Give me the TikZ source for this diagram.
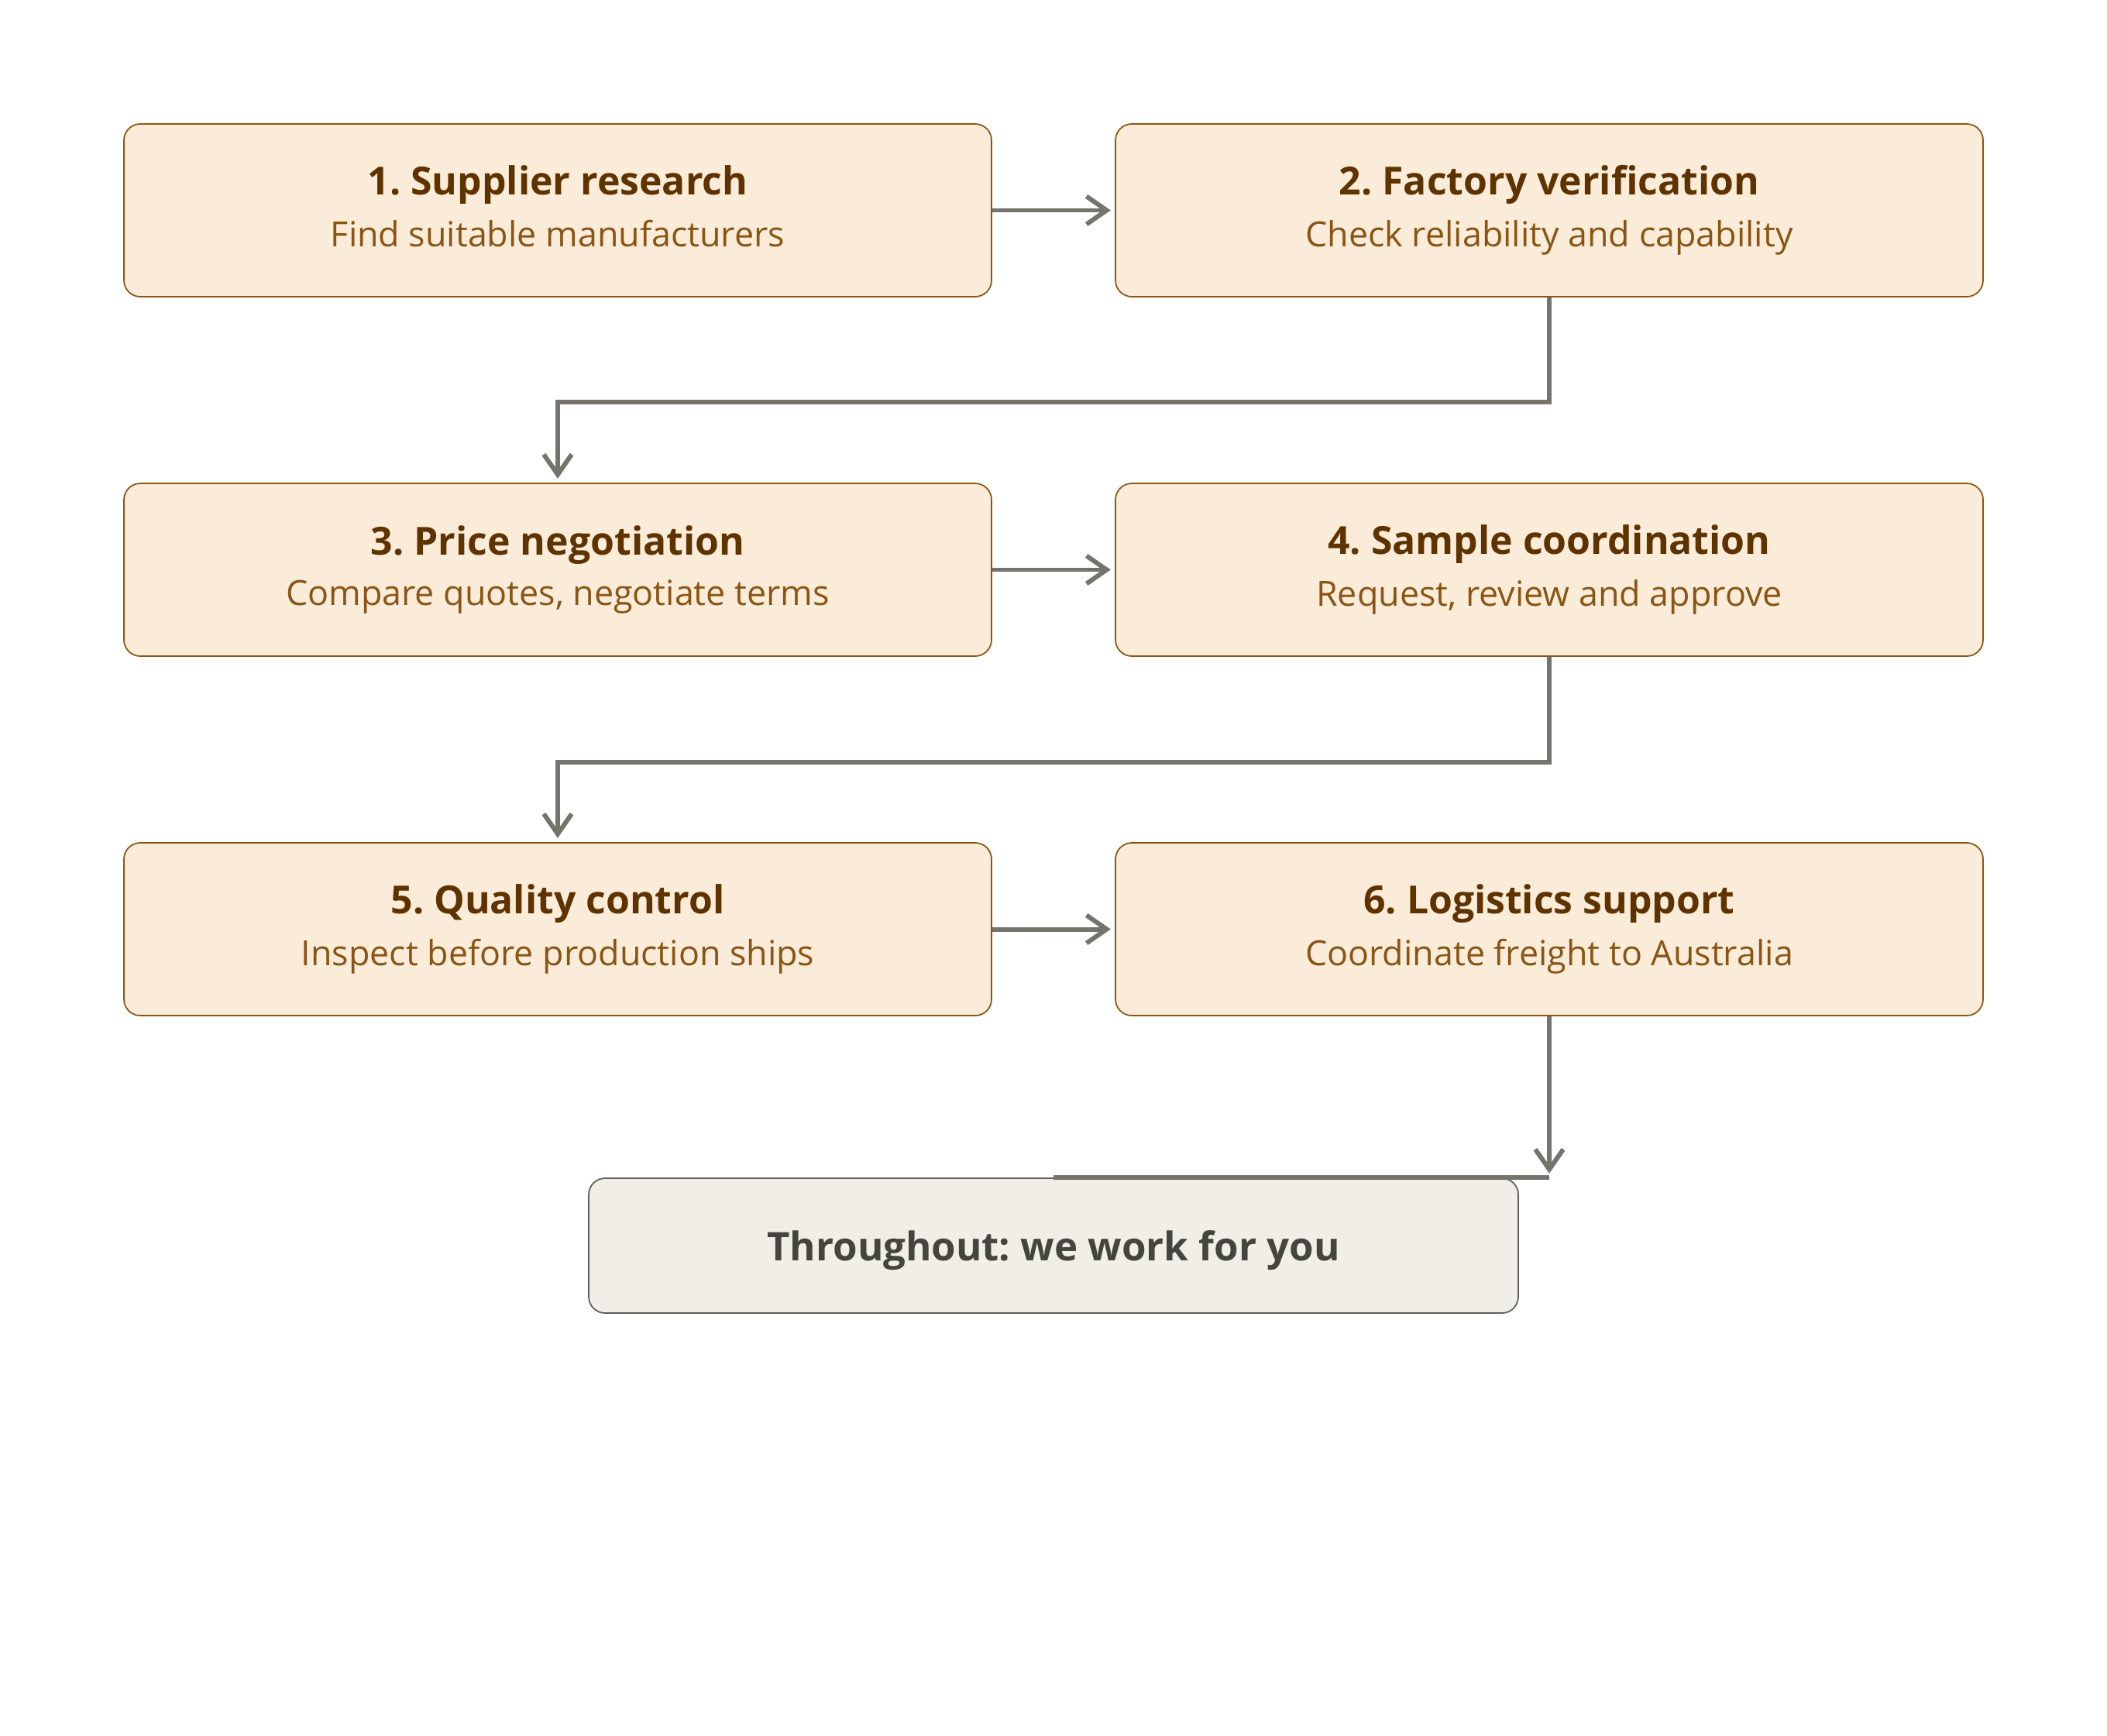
\documentclass[tikz,border=0pt]{standalone}
\usepackage{fontspec}
\setmainfont{Open Sans}
\usetikzlibrary{arrows.meta,positioning}
\frenchspacing

\def\boxw{11.2}
\def\boxh{2.23}
\definecolor{stepface}{HTML}{FAECD9}
\definecolor{stepedge}{HTML}{8B5412}
\definecolor{steptitle}{HTML}{5E3300}
\definecolor{stepsub}{HTML}{8A5514}
\definecolor{flowgray}{HTML}{74736C}
\definecolor{noteface}{HTML}{F1EEE7}
\definecolor{noteedge}{HTML}{5E5E58}
\definecolor{notetext}{HTML}{45453F}
\newcommand{\steptext}[2]{%
  {\color{steptitle}\fontsize{14.2}{17}\selectfont\bfseries\vphantom{Sy}#1}\\[0.17cm]%
  {\color{stepsub}\fontsize{12.75}{15}\selectfont\vphantom{Fy}#2}%
}

\begin{document}
\begin{tikzpicture}[
  x=1cm, y=1cm,
  stepbox/.style={
    draw=stepedge,
    fill=stepface,
    line width=0.5pt,
    rounded corners=6pt,
    minimum width=\boxw cm,
    minimum height=\boxh cm,
    align=center
  },
  notebox/.style={
    draw=noteedge,
    fill=noteface,
    line width=0.5pt,
    rounded corners=6pt,
    minimum width=12cm,
    minimum height=1.74cm,
    align=center,
    text depth=0pt,
    text=notetext,
    font=\fontsize{14.5}{17}\selectfont\bfseries
  },
  flowline/.style={
    draw=flowgray,
    line width=1.7pt
  },
  flow/.style={
    flowline,
    -{Straight Barb[length=0.26cm, width=0.36cm, line width=1.7pt]},
    shorten >=1.5pt
  }
]

  \useasboundingbox (0,0) rectangle (27.2,-22.4);

  % --------------------------------------------------------------------
  % Steps
  % --------------------------------------------------------------------

  \node[stepbox] (s1) at (7.2, -2.715)
    {\steptext{1. Supplier research}{Find suitable manufacturers}};
  \node[stepbox] (s2) at (20.0, -2.715)
    {\steptext{2. Factory verification}{Check reliability and capability}};
  \node[stepbox] (s3) at (7.2, -7.355)
    {\steptext{3. Price negotiation}{Compare quotes, negotiate terms}};
  \node[stepbox] (s4) at (20.0, -7.355)
    {\steptext{4. Sample coordination}{Request, review and approve}};
  \node[stepbox] (s5) at (7.2, -11.995)
    {\steptext{5. Quality control}{Inspect before production ships}};
  \node[stepbox] (s6) at (20.0, -11.995)
    {\steptext{6. Logistics support}{Coordinate freight to Australia}};

  \node[notebox] (note) at (13.6, -16.08) {Throughout: we work for you};

  % --------------------------------------------------------------------
  % Connectors
  % --------------------------------------------------------------------

  \coordinate (bend1) at (0, -5.19);
  \coordinate (bend2) at (0, -9.84);
  \coordinate (drop) at (s6.south |- note.north);

  \draw[flow] (s1.east) -- (s2.west);
  \draw[flow] (s3.east) -- (s4.west);
  \draw[flow] (s5.east) -- (s6.west);

  \draw[flow] (s2.south) -- (s2.south |- bend1) -- (s3.north |- bend1) -- (s3.north);
  \draw[flow] (s4.south) -- (s4.south |- bend2) -- (s5.north |- bend2) -- (s5.north);

  \draw[flowline] (note.north) -- (drop);
  \draw[flow] (s6.south) -- (drop);

\end{tikzpicture}
\end{document}
